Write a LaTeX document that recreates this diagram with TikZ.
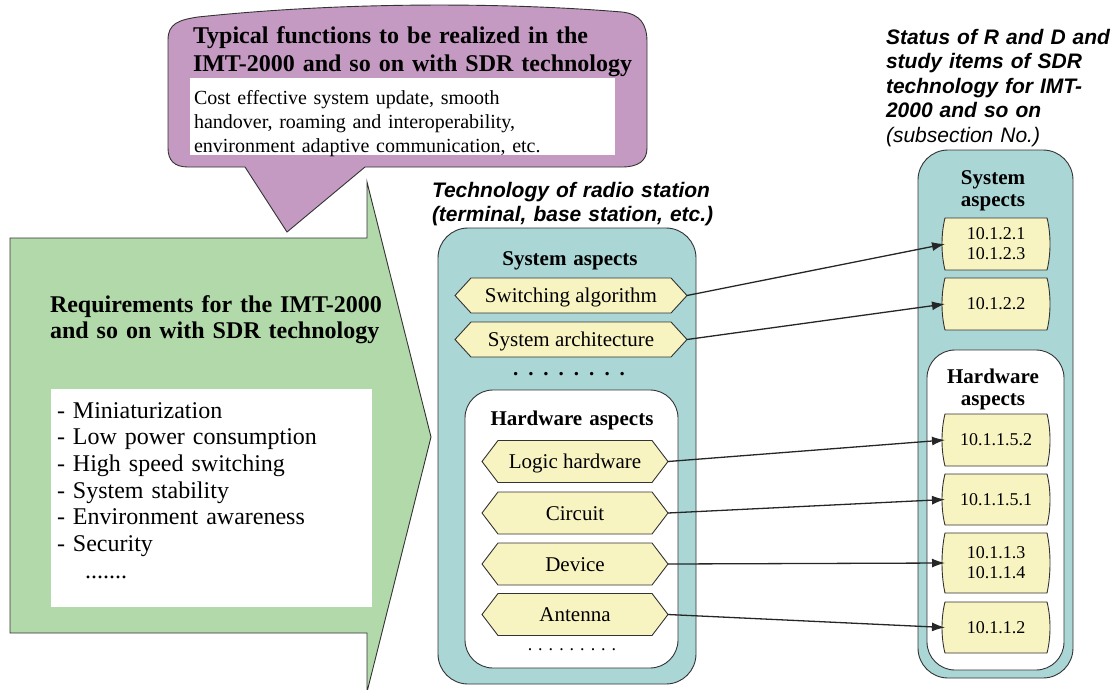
\documentclass[tikz,border=0pt]{standalone}
\usepackage{fontspec}
\setmainfont{Liberation Serif}
\newfontfamily\lsans{Liberation Sans}
\usetikzlibrary{arrows.meta}
\definecolor{purp}{HTML}{C49AC2}
\definecolor{grn}{HTML}{B1D9A9}
\definecolor{tealbg}{HTML}{AAD6D6}
\definecolor{yel}{HTML}{F8F4C2}
\definecolor{edge}{HTML}{333333}
\newcommand\myfs[2]{\fontsize{#1}{#2}\selectfont}
% hexagon: name, cx, cy, halfw, halfh, text
\newcommand\hexbox[6]{%
  \draw[hexline] (#2-#4,#3) -- (#2-#4+16,#3-#5) -- (#2+#4-16,#3-#5) -- (#2+#4,#3)
     -- (#2+#4-16,#3+#5) -- (#2-#4+16,#3+#5) -- cycle;
  \node[hextext, minimum width=2*#4, minimum height=2*#5] (#1) at (#2,#3) {#6};}
% number box: name, cy, halfh, text
\newcommand\numbox[4]{%
  \draw[hexline] (945,#2-#3) -- (1047,#2-#3)
     .. controls (1051,#2-0.4*#3) and (1051,#2+0.4*#3) .. (1047,#2+#3)
     -- (945,#2+#3)
     .. controls (941,#2+0.4*#3) and (941,#2-0.4*#3) .. (945,#2-#3) -- cycle;
  \node[numtext, minimum height=2*#3] (#1) at (996,#2) {#4};}
\begin{document}
\begin{tikzpicture}[x=1pt,y=-1pt,
  every node/.style={inner sep=0pt, outer sep=0pt},
  outline/.style={draw=edge, line width=0.9pt},
  hexline/.style={outline, fill=yel},
  hextext/.style={font=\myfs{21}{24}, text height=14pt, text depth=0pt},
  numtext/.style={font=\myfs{18}{20}, minimum width=102pt, text width=102pt, align=center},
  tealbox/.style={outline, fill=tealbg, rounded corners=30pt},
  whitebox/.style={outline, fill=white, rounded corners=28pt},
  title/.style={font=\bfseries\myfs{21}{22.5}, text width=220pt, align=center, anchor=base},
  label/.style={font=\lsans\bfseries\itshape\myfs{21}{24.5}, anchor=base west, align=left},
  conn/.style={line width=1.3pt, draw=black!85, -{Latex[length=13pt,width=9pt]}}]
\useasboundingbox (0,0) rectangle (1114,689);

% green requirements arrow
\path[outline, fill=grn] (10,238) -- (367,238) -- (367,182) -- (431,437) -- (367,692)
   -- (367,633) -- (10,633) -- cycle;
\path[fill=white] (51,389) rectangle (372,607);
\node[font=\bfseries\myfs{24}{26.5}, anchor=base west, text width=380pt, align=left] (reqtitle) at (50,312)
  {Requirements for the IMT-2000\\and so on with SDR technology};
\node[font=\myfs{24}{26.67}, anchor=base west, text width=310pt, align=left] (reqlist) at (57,418)
  {- Miniaturization\\- Low power consumption\\- High speed switching\\- System stability\\- Environment awareness\\- Security};
\node[font=\myfs{24}{26.67}, anchor=base west] (reqdots) at (85,578) {.......};

% purple callout
\path[outline, fill=purp] (168,40) .. controls (168,24) and (178,20) .. (198,17)
   .. controls (340,2) and (500,2) .. (622,12)
   .. controls (640,14) and (647,24) .. (647,42) -- (647,148)
   .. controls (647,161) and (638,167) .. (622,167)
   -- (365,167) -- (287,232) -- (245,167) -- (188,167)
   .. controls (174,167) and (168,160) .. (168,148) -- cycle;
\path[fill=white] (190,78) rectangle (615,155);
\node[font=\bfseries\myfs{24}{28}, anchor=base west, text width=460pt, align=left] (funtitle) at (193,43)
  {Typical functions to be realized in the\\IMT-2000 and so on with SDR technology};
\node[font=\myfs{20}{24}, anchor=base west, text width=420pt, align=left] (funtext) at (194,104)
  {Cost effective system update, smooth\\handover, roaming and interoperability,\\environment adaptive communication, etc.};

% middle: technology of radio station
\node[label, text width=340pt] (techlabel) at (432,197)
  {Technology of radio station\\(terminal, base station, etc.)};
\path[tealbox] (438,228) rectangle (696,684);
\node[title] (systitle) at (570,265) {System aspects};
\hexbox{sw}{571}{295.5}{116}{17.5}{Switching algorithm}
\hexbox{sa}{571}{339.5}{116}{17.5}{System architecture}
\node[font=\bfseries\myfs{21}{24}, anchor=base] (sysdots) at (569,375)
  {.\hspace{10pt}.\hspace{10pt}.\hspace{10pt}.\hspace{10pt}.\hspace{10pt}.\hspace{10pt}.\hspace{10pt}.};
\path[whitebox] (465,390) rectangle (678,668);
\node[title] (hwtitle) at (572,425) {Hardware aspects};
\hexbox{lh}{575}{461.5}{93}{21}{Logic hardware}
\hexbox{ci}{575}{513}{93}{21}{Circuit}
\hexbox{de}{575}{564}{93}{21}{Device}
\hexbox{an}{575}{614.5}{93}{21}{Antenna}
\node[font=\myfs{18}{20}, anchor=base] (hwdots) at (572,650)
  {.\hspace{6pt}.\hspace{6pt}.\hspace{6pt}.\hspace{6pt}.\hspace{6pt}.\hspace{6pt}.\hspace{6pt}.\hspace{6pt}.};

% right: status of R and D
\node[label, text width=240pt] (statlabel) at (886,44)
  {Status of R and D and\\study items of SDR\\technology for IMT-\\2000 and so on\\{\mdseries(subsection No.)}};
\path[tealbox] (918,150) rectangle (1073,678);
\node[title] (rsystitle) at (993,184) {System\\aspects};
\numbox{n1}{244}{26}{10.1.2.1\\10.1.2.3}
\numbox{n2}{304}{26}{10.1.2.2}
\path[whitebox] (927,350) rectangle (1064,670);
\node[title] (rhwtitle) at (993,383) {Hardware\\aspects};
\numbox{n3}{440}{26}{10.1.1.5.2}
\numbox{n4}{499.5}{25.5}{10.1.1.5.1}
\numbox{n5}{563}{30}{10.1.1.3\\10.1.1.4}
\numbox{n6}{627.5}{25.5}{10.1.1.2}

% connectors
\draw[conn] (sw.east) -- (n1.west);
\draw[conn] (sa.east) -- (n2.west);
\draw[conn] (lh.east) -- (n3.west);
\draw[conn] (ci.east) -- (n4.west);
\draw[conn] (de.east) -- (n5.west);
\draw[conn] (an.east) -- (n6.west);
\end{tikzpicture}
\end{document}
